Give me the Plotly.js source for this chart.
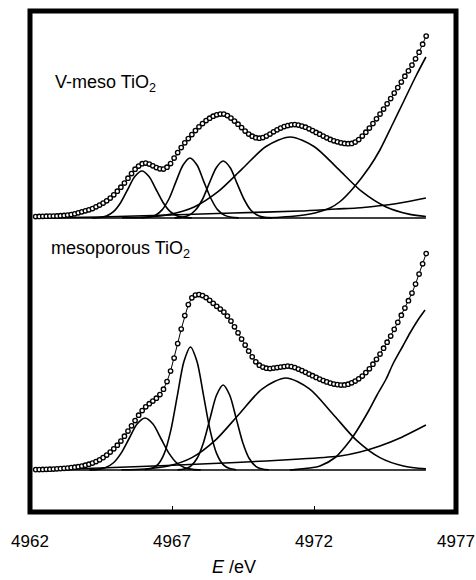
<!DOCTYPE html>
<html>
<head>
<meta charset="utf-8">
<script src="https://cdn.plot.ly/plotly-3.0.1.min.js"></script>
<style>html,body{margin:0;padding:0;background:#fff;}#chart{width:476px;height:580px;}</style>
</head>
<body>
<div id="chart"></div>
<script>
// Photon energy (eV) of the measured points
const energy = [4962.200,4962.325,4962.450,4962.575,4962.700,4962.825,4962.950,4963.075,4963.200,4963.325,
4963.450,4963.575,4963.700,4963.825,4963.950,4964.075,4964.200,4964.325,4964.450,4964.575,
4964.700,4964.825,4964.950,4965.075,4965.200,4965.325,4965.450,4965.575,4965.700,4965.825,
4965.950,4966.075,4966.200,4966.325,4966.450,4966.575,4966.700,4966.825,4966.950,4967.075,
4967.200,4967.325,4967.450,4967.575,4967.700,4967.825,4967.950,4968.075,4968.200,4968.325,
4968.450,4968.575,4968.700,4968.825,4968.950,4969.075,4969.200,4969.325,4969.450,4969.575,
4969.700,4969.825,4969.950,4970.075,4970.200,4970.325,4970.450,4970.575,4970.700,4970.825,
4970.950,4971.075,4971.200,4971.325,4971.450,4971.575,4971.700,4971.825,4971.950,4972.075,
4972.200,4972.325,4972.450,4972.575,4972.700,4972.825,4972.950,4973.075,4973.200,4973.325,
4973.450,4973.575,4973.700,4973.825,4973.950,4974.075,4974.200,4974.325,4974.450,4974.575,
4974.700,4974.825,4974.950,4975.075,4975.200,4975.325,4975.450,4975.575,4975.700,4975.825,
4975.950];

// V-meso TiO2 measured absorption (relative to its baseline)
const vmesoAbs = [0.015,0.016,0.017,0.018,0.019,0.020,0.021,0.023,0.026,0.030,
0.035,0.042,0.052,0.062,0.072,0.082,0.095,0.112,0.130,0.150,
0.172,0.200,0.232,0.268,0.308,0.350,0.398,0.445,0.488,0.520,
0.543,0.550,0.540,0.522,0.505,0.492,0.490,0.508,0.545,0.600,
0.655,0.705,0.752,0.795,0.835,0.875,0.912,0.945,0.975,0.998,
1.018,1.032,1.040,1.040,1.025,1.000,0.970,0.938,0.905,0.870,
0.840,0.818,0.803,0.798,0.805,0.820,0.840,0.862,0.882,0.900,
0.915,0.925,0.932,0.935,0.930,0.920,0.908,0.892,0.875,0.856,
0.838,0.820,0.802,0.786,0.772,0.762,0.752,0.746,0.743,0.746,
0.760,0.785,0.820,0.858,0.900,0.945,0.992,1.040,1.090,1.142,
1.195,1.250,1.305,1.360,1.418,1.472,1.530,1.592,1.658,1.738,
1.820];

// mesoporous TiO2 measured absorption (relative to its baseline)
const mesoAbs = [0.004,0.005,0.006,0.007,0.008,0.010,0.012,0.014,0.017,0.020,
0.024,0.028,0.033,0.040,0.048,0.058,0.070,0.085,0.102,0.124,
0.150,0.180,0.212,0.248,0.290,0.338,0.390,0.442,0.495,0.548,
0.595,0.632,0.663,0.690,0.718,0.755,0.808,0.885,0.990,1.120,
1.265,1.410,1.545,1.655,1.722,1.750,1.755,1.745,1.725,1.697,
1.667,1.637,1.610,1.580,1.540,1.490,1.432,1.372,1.310,1.250,
1.190,1.132,1.082,1.048,1.030,1.018,1.015,1.020,1.025,1.030,
1.035,1.040,1.035,1.025,1.010,0.995,0.977,0.960,0.943,0.926,
0.910,0.895,0.881,0.869,0.860,0.854,0.850,0.851,0.858,0.872,
0.890,0.912,0.940,0.974,1.012,1.058,1.107,1.160,1.218,1.278,
1.340,1.407,1.477,1.548,1.620,1.693,1.770,1.860,1.960,2.062,
2.165];

// ---- V-meso TiO2 fitted components ----
const vmesoBaseE = [4962.18, 4975.94];
const vmesoBase = [0, 0];
const vmesoBgE = [4962.18, 4964.46, 4966.93, 4969.15, 4971.51, 4972.77, 4973.50, 4974.22, 4975.03, 4975.94];
const vmesoBg = [0.0, 0.01, 0.03, 0.05, 0.07, 0.09, 0.10, 0.12, 0.15, 0.20];
const vmesoP1E = [4964.19,4964.44,4964.69,4964.94,4965.19,4965.44,4965.69,4965.94,4966.19,4966.44,4966.69,4966.94,4967.19,4967.44,4967.69];
const vmesoP1 = [0.001,0.005,0.021,0.064,0.153,0.285,0.415,0.470,0.415,0.285,0.153,0.064,0.021,0.005,0.001];
const vmesoP2E = [4965.92,4966.16,4966.41,4966.65,4966.90,4967.14,4967.39,4967.63,4967.88,4968.12,4968.37,4968.61,4968.86,4969.10,4969.35];
const vmesoP2 = [0.001,0.007,0.026,0.081,0.195,0.364,0.530,0.600,0.530,0.364,0.195,0.081,0.026,0.007,0.001];
const vmesoP3E = [4967.09,4967.33,4967.58,4967.82,4968.07,4968.31,4968.56,4968.80,4969.05,4969.29,4969.54,4969.78,4970.03,4970.27,4970.52];
const vmesoP3 = [0.001,0.006,0.025,0.077,0.185,0.346,0.503,0.570,0.503,0.346,0.185,0.077,0.025,0.006,0.001];
const vmesoP4E = [4965.24,4966.09,4966.93,4967.78,4968.62,4969.47,4970.31,4971.16,4972.00,4972.85,4973.69,4974.54,4975.38,4975.94];
const vmesoP4 = [0.002,0.009,0.036,0.110,0.263,0.491,0.715,0.810,0.715,0.491,0.263,0.110,0.036,0.015];
const vmesoEdgeE = [4970.10,4970.80,4971.51,4971.86,4972.21,4972.56,4972.92,4973.37,4973.94,4974.32,4974.78,4975.13,4975.59,4975.94];
const vmesoEdge = [0.0,0.008,0.025,0.040,0.065,0.100,0.165,0.295,0.505,0.680,0.945,1.150,1.420,1.610];

// ---- mesoporous TiO2 fitted components ----
const mesoBaseE = [4962.25, 4975.94];
const mesoBase = [0, 0];
const mesoBgE = [4962.28, 4964.46, 4966.82, 4969.25, 4971.51, 4972.92, 4973.62, 4974.32, 4975.03, 4975.94];
const mesoBg = [0.0, 0.02, 0.045, 0.075, 0.11, 0.14, 0.18, 0.24, 0.32, 0.45];
const mesoP1E = [4964.09,4964.37,4964.65,4964.93,4965.21,4965.49,4965.77,4966.05,4966.33,4966.61,4966.89,4967.17,4967.45,4967.73,4968.01];
const mesoP1 = [0.001,0.006,0.023,0.070,0.169,0.315,0.459,0.520,0.459,0.315,0.169,0.070,0.023,0.006,0.001];
const mesoP2E = [4966.04,4966.27,4966.50,4966.73,4966.96,4967.19,4967.42,4967.65,4967.88,4968.11,4968.34,4968.57,4968.80,4969.03,4969.26];
const mesoP2 = [0.003,0.014,0.054,0.166,0.399,0.746,1.085,1.230,1.085,0.746,0.399,0.166,0.054,0.014,0.003];
const mesoP3E = [4967.19,4967.42,4967.65,4967.88,4968.11,4968.34,4968.57,4968.80,4969.03,4969.26,4969.49,4969.72,4969.95,4970.18,4970.41];
const mesoP3 = [0.002,0.009,0.037,0.115,0.276,0.516,0.750,0.850,0.750,0.516,0.276,0.115,0.037,0.009,0.002];
const mesoP4E = [4965.22,4966.04,4966.87,4967.70,4968.53,4969.36,4970.18,4971.01,4971.84,4972.67,4973.49,4974.32,4975.15,4975.94];
const mesoP4 = [0.002,0.010,0.040,0.124,0.299,0.558,0.812,0.920,0.812,0.558,0.299,0.124,0.040,0.011];
const mesoEdgeE = [4971.15,4971.86,4972.21,4972.77,4973.09,4973.41,4973.94,4974.22,4974.54,4974.78,4975.13,4975.38,4975.66,4975.91];
const mesoEdge = [0.0,0.020,0.040,0.130,0.230,0.350,0.600,0.750,0.910,1.060,1.240,1.370,1.500,1.600];

const xTickVals = [4962, 4967, 4972, 4977];
const xTickText = ['4962', '4967', '4972', '4977'];

const FONT = 'Liberation Sans, Arial, Helvetica, sans-serif';

function comp(x, y, yaxis) {
  return {x: x, y: y, yaxis: yaxis, type: 'scatter', mode: 'lines',
          line: {color: '#000', width: 1.6, shape: 'spline', smoothing: 0.8},
          hoverinfo: 'skip'};
}
function dataTrace(x, y, yaxis) {
  return {x: x, y: y, yaxis: yaxis, type: 'scatter', mode: 'lines+markers',
          line: {color: '#000', width: 1},
          marker: {symbol: 'circle', size: 4.4, color: '#fff', line: {color: '#000', width: 1.35}},
          cliponaxis: false};
}

const traces = [
  comp(vmesoBaseE, vmesoBase, 'y2'),
  comp(vmesoBgE, vmesoBg, 'y2'),
  comp(vmesoP1E, vmesoP1, 'y2'),
  comp(vmesoP2E, vmesoP2, 'y2'),
  comp(vmesoP3E, vmesoP3, 'y2'),
  comp(vmesoP4E, vmesoP4, 'y2'),
  comp(vmesoEdgeE, vmesoEdge, 'y2'),
  comp(mesoBaseE, mesoBase, 'y'),
  comp(mesoBgE, mesoBg, 'y'),
  comp(mesoP1E, mesoP1, 'y'),
  comp(mesoP2E, mesoP2, 'y'),
  comp(mesoP3E, mesoP3, 'y'),
  comp(mesoP4E, mesoP4, 'y'),
  comp(mesoEdgeE, mesoEdge, 'y'),
  dataTrace(energy, vmesoAbs, 'y2'),
  dataTrace(energy, mesoAbs, 'y')
];

const layout = {
  width: 476, height: 580,
  margin: {l: 30, r: 20, t: 11, b: 68, pad: 0},
  paper_bgcolor: '#fff', plot_bgcolor: '#fff',
  showlegend: false,
  font: {family: FONT, color: '#000'},
  xaxis: {
    range: [4962, 4977], tickmode: 'array', tickvals: xTickVals, ticktext: xTickText,
    ticks: 'inside', ticklen: 6, tickwidth: 1, tickcolor: '#000',
    showline: false, showgrid: false, zeroline: false,
    tickfont: {family: FONT, size: 17, color: '#000'},
    ticklabelstandoff: 17
  },
  yaxis: {range: [-0.42, 4.59], visible: false, showgrid: false, zeroline: false},
  yaxis2: {range: [-2.94, 2.07], overlaying: 'y', visible: false, showgrid: false, zeroline: false},
  shapes: [{type: 'rect', xref: 'paper', yref: 'paper', x0: 0, x1: 1, y0: 0, y1: 1,
            line: {color: '#000', width: 5}, layer: 'above'}],
  annotations: [
    {text: 'V-meso TiO<sub>2</sub>', xref: 'paper', yref: 'paper', x: 0.054, y: 0.856,
     xanchor: 'left', yanchor: 'middle', showarrow: false, font: {family: FONT, size: 18, color: '#000'}},
    {text: 'mesoporous TiO<sub>2</sub>', xref: 'paper', yref: 'paper', x: 0.0455, y: 0.523,
     xanchor: 'left', yanchor: 'middle', showarrow: false, font: {family: FONT, size: 18, color: '#000'}},
    {text: '<i>E</i> /eV', xref: 'paper', yref: 'paper', x: 0.479, y: -0.109,
     xanchor: 'center', yanchor: 'middle', showarrow: false, font: {family: FONT, size: 18, color: '#000'}}
  ]
};

Plotly.newPlot('chart', traces, layout, {displayModeBar: false, staticPlot: true});
</script>
</body>
</html>
